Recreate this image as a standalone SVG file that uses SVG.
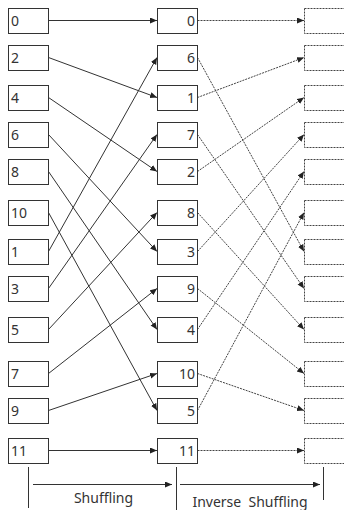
<svg xmlns="http://www.w3.org/2000/svg" width="344" height="510" viewBox="0 0 344 510">
<style>
.box{fill:#fff;stroke:#333;stroke-width:1}
.dbox{fill:#fff;stroke:#444;stroke-width:1;stroke-dasharray:2 1}
.t{font-family:"Noto Sans","Liberation Sans",sans-serif;font-size:14px;fill:#333}
.tr{text-anchor:end}
.c{stroke:#333;stroke-width:1;fill:none;marker-end:url(#ah)}
.d{stroke:#444;stroke-width:1;fill:none;stroke-dasharray:2 1;marker-end:url(#ah)}
.l{stroke:#333;stroke-width:1;fill:none}
.lab{font-family:"Noto Sans","Liberation Sans",sans-serif;font-size:14px;fill:#333;text-anchor:middle;white-space:pre}
</style>
<defs>
<marker id="ah" markerUnits="userSpaceOnUse" markerWidth="8" markerHeight="8" refX="7" refY="3" orient="auto">
<path d="M0,0 L7,3 L0,6 Z" fill="#222"/>
</marker>
</defs>
<rect width="344" height="510" fill="#fff"/>
<g id="connectors">
<line class="c" x1="48.5" y1="20.5" x2="157" y2="20.5"/>
<line class="c" x1="48.5" y1="57.5" x2="157" y2="97.5"/>
<line class="c" x1="48.5" y1="97.5" x2="157" y2="171.5"/>
<line class="c" x1="48.5" y1="134.5" x2="157" y2="251.5"/>
<line class="c" x1="48.5" y1="171.5" x2="157" y2="329.5"/>
<line class="c" x1="48.5" y1="212.5" x2="157" y2="410.5"/>
<line class="c" x1="48.5" y1="251.5" x2="157" y2="57.5"/>
<line class="c" x1="48.5" y1="288.5" x2="157" y2="134.5"/>
<line class="c" x1="48.5" y1="329.5" x2="157" y2="212.5"/>
<line class="c" x1="48.5" y1="373.5" x2="157" y2="288.5"/>
<line class="c" x1="48.5" y1="410.5" x2="157" y2="373.5"/>
<line class="c" x1="48.5" y1="450.5" x2="157" y2="450.5"/>
<line class="d" x1="197.5" y1="20.5" x2="304" y2="20.5"/>
<line class="d" x1="197.5" y1="57.5" x2="304" y2="251.5"/>
<line class="d" x1="197.5" y1="97.5" x2="304" y2="57.5"/>
<line class="d" x1="197.5" y1="134.5" x2="304" y2="288.5"/>
<line class="d" x1="197.5" y1="171.5" x2="304" y2="97.5"/>
<line class="d" x1="197.5" y1="212.5" x2="304" y2="329.5"/>
<line class="d" x1="197.5" y1="251.5" x2="304" y2="134.5"/>
<line class="d" x1="197.5" y1="288.5" x2="304" y2="373.5"/>
<line class="d" x1="197.5" y1="329.5" x2="304" y2="171.5"/>
<line class="d" x1="197.5" y1="373.5" x2="304" y2="410.5"/>
<line class="d" x1="197.5" y1="410.5" x2="304" y2="212.5"/>
<line class="d" x1="197.5" y1="450.5" x2="304" y2="450.5"/>
</g>
<g id="left">
<g id="L0"><rect class="box" x="8.5" y="8.5" width="40" height="25"/><text class="t" x="11" y="26">0</text></g>
<g id="L2"><rect class="box" x="8.5" y="45.5" width="40" height="25"/><text class="t" x="11" y="63">2</text></g>
<g id="L4"><rect class="box" x="8.5" y="85.5" width="40" height="25"/><text class="t" x="11" y="103">4</text></g>
<g id="L6"><rect class="box" x="8.5" y="122.5" width="40" height="25"/><text class="t" x="11" y="140">6</text></g>
<g id="L8"><rect class="box" x="8.5" y="159.5" width="40" height="25"/><text class="t" x="11" y="177">8</text></g>
<g id="L10"><rect class="box" x="8.5" y="200.5" width="40" height="25"/><text class="t" x="11" y="218">10</text></g>
<g id="L1"><rect class="box" x="8.5" y="239.5" width="40" height="25"/><text class="t" x="11" y="257">1</text></g>
<g id="L3"><rect class="box" x="8.5" y="276.5" width="40" height="25"/><text class="t" x="11" y="294">3</text></g>
<g id="L5"><rect class="box" x="8.5" y="317.5" width="40" height="25"/><text class="t" x="11" y="335">5</text></g>
<g id="L7"><rect class="box" x="8.5" y="361.5" width="40" height="25"/><text class="t" x="11" y="379">7</text></g>
<g id="L9"><rect class="box" x="8.5" y="398.5" width="40" height="25"/><text class="t" x="11" y="416">9</text></g>
<g id="L11"><rect class="box" x="8.5" y="438.5" width="40" height="25"/><text class="t" x="11" y="456">11</text></g>
</g>
<g id="middle">
<g id="M0"><rect class="box" x="157.5" y="8.5" width="40" height="25"/><text class="t tr" x="195" y="26">0</text></g>
<g id="M6"><rect class="box" x="157.5" y="45.5" width="40" height="25"/><text class="t tr" x="195" y="63">6</text></g>
<g id="M1"><rect class="box" x="157.5" y="85.5" width="40" height="25"/><text class="t tr" x="195" y="103">1</text></g>
<g id="M7"><rect class="box" x="157.5" y="122.5" width="40" height="25"/><text class="t tr" x="195" y="140">7</text></g>
<g id="M2"><rect class="box" x="157.5" y="159.5" width="40" height="25"/><text class="t tr" x="195" y="177">2</text></g>
<g id="M8"><rect class="box" x="157.5" y="200.5" width="40" height="25"/><text class="t tr" x="195" y="218">8</text></g>
<g id="M3"><rect class="box" x="157.5" y="239.5" width="40" height="25"/><text class="t tr" x="195" y="257">3</text></g>
<g id="M9"><rect class="box" x="157.5" y="276.5" width="40" height="25"/><text class="t tr" x="195" y="294">9</text></g>
<g id="M4"><rect class="box" x="157.5" y="317.5" width="40" height="25"/><text class="t tr" x="195" y="335">4</text></g>
<g id="M10"><rect class="box" x="157.5" y="361.5" width="40" height="25"/><text class="t tr" x="195" y="379">10</text></g>
<g id="M5"><rect class="box" x="157.5" y="398.5" width="40" height="25"/><text class="t tr" x="195" y="416">5</text></g>
<g id="M11"><rect class="box" x="157.5" y="438.5" width="40" height="25"/><text class="t tr" x="195" y="456">11</text></g>
</g>
<g id="right">
<rect id="R0" class="dbox" x="304.5" y="8.5" width="45" height="25"/>
<rect id="R1" class="dbox" x="304.5" y="45.5" width="45" height="25"/>
<rect id="R2" class="dbox" x="304.5" y="85.5" width="45" height="25"/>
<rect id="R3" class="dbox" x="304.5" y="122.5" width="45" height="25"/>
<rect id="R4" class="dbox" x="304.5" y="159.5" width="45" height="25"/>
<rect id="R5" class="dbox" x="304.5" y="200.5" width="45" height="25"/>
<rect id="R6" class="dbox" x="304.5" y="239.5" width="45" height="25"/>
<rect id="R7" class="dbox" x="304.5" y="276.5" width="45" height="25"/>
<rect id="R8" class="dbox" x="304.5" y="317.5" width="45" height="25"/>
<rect id="R9" class="dbox" x="304.5" y="361.5" width="45" height="25"/>
<rect id="R10" class="dbox" x="304.5" y="398.5" width="45" height="25"/>
<rect id="R11" class="dbox" x="304.5" y="438.5" width="45" height="25"/>
</g>
<g id="scale">
<line class="l" x1="28.5" y1="467" x2="28.5" y2="508"/>
<line class="l" x1="176.5" y1="467" x2="176.5" y2="510"/>
<line class="l" x1="323.5" y1="467" x2="323.5" y2="500"/>
<line class="c" x1="33" y1="484.5" x2="172" y2="484.5"/>
<line class="c" x1="180" y1="484.5" x2="320" y2="484.5"/>
<text class="lab" x="103.5" y="503">Shuffling</text>
<text class="lab" x="250" y="506.5" xml:space="preserve">Inverse  Shuffling</text>
</g>
</svg>
